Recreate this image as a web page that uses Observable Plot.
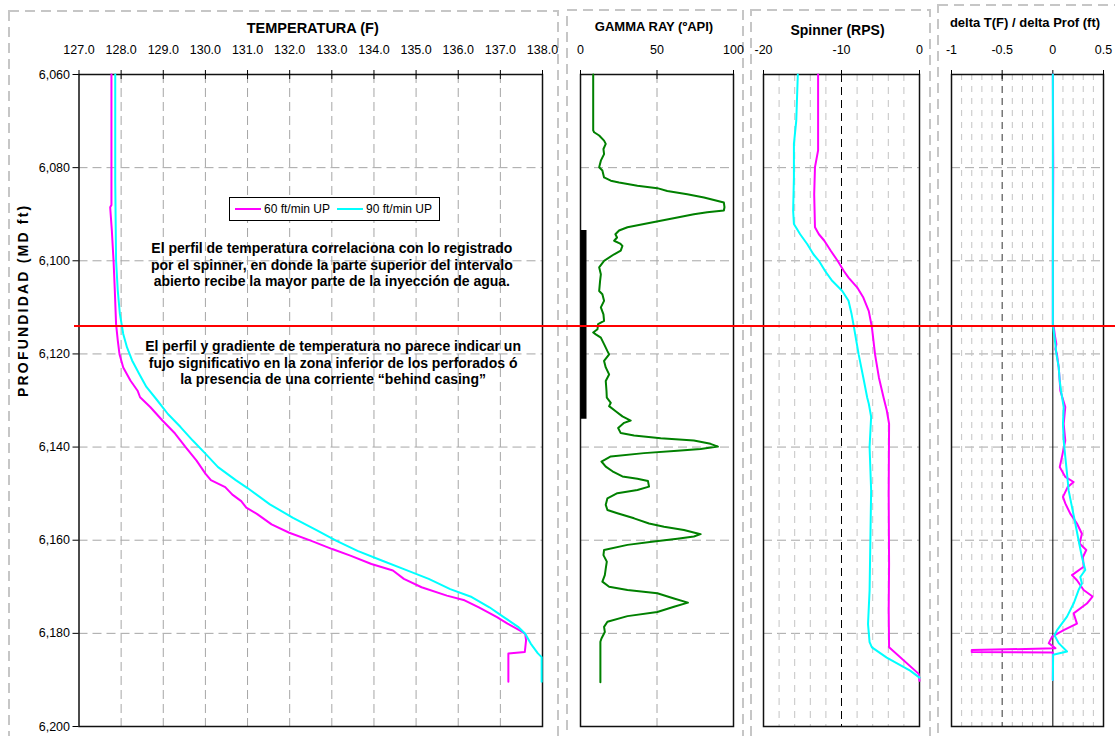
<!DOCTYPE html>
<html>
<head>
<meta charset="utf-8">
<script src="https://cdn.jsdelivr.net/npm/d3@7"></script>
<script src="https://cdn.jsdelivr.net/npm/@observablehq/plot@0.6"></script>
<style>
  body { margin: 0; background: #fff; font-family: "Liberation Sans", Arial, sans-serif; }
  #chart { position: relative; width: 1115px; height: 736px; overflow: hidden; background: #fff; }
  #chart svg { position: absolute; top: 0; }
  .legend { position: absolute; left: 229px; top: 197px; width: 204px; height: 22px;
            border: 1px solid #000; background: #fff; display: flex; align-items: center;
            font-size: 12px; color: #000; padding-left: 5px; box-sizing: content-box; }
  .legend .sw { display: inline-block; width: 28px; height: 2.5px; margin-right: 3px; }
  .legend .lb { margin-right: 7px; white-space: nowrap; }
</style>
</head>
<body>
<div id="chart"></div>
<script>
// ---- depth axis (shared by every track) ----
const depthDomain = [6060, 6200];
const depthTicks = [6060, 6080, 6100, 6120, 6140, 6160, 6180, 6200];
const depthGrid = [6080, 6100, 6120, 6140, 6160, 6180];
const markerDepth = 6114;          // boundary between upper and lower zone
const perfTop = 6093.5, perfBase = 6134;   // open (perforated) interval

// ---- track scales ----
const tempTicks = [127, 128, 129, 130, 131, 132, 133, 134, 135, 136, 137, 138];
const gammaTicks = [0, 50, 100];
const spinTicks = [-20, -10, 0];
const spinMinor = [-18, -16, -14, -12, -8, -6, -4, -2];
const deltaTicks = [-1, -0.5, 0, 0.5];
const deltaMinor = [-0.9, -0.8, -0.7, -0.6, -0.4, -0.3, -0.2, -0.1, 0.1, 0.2, 0.3, 0.4];

// ---- passes ----
const series = ["60 ft/min UP", "90 ft/min UP"];
const seriesColors = ["#ff00ff", "#00ffff"];

// ---- temperature (F) ----
const tempDepth60 = [6060, 6088, 6088.5, 6093.6, 6100, 6106.4, 6113.6, 6117.1, 6120, 6122.9, 6125.7, 6127.9, 6129.3, 6131.4, 6134.3, 6137.1, 6140, 6142.9, 6145.7, 6147.1, 6148.6, 6150.2, 6151.6, 6153.0, 6154.4, 6156.6, 6158.4, 6160.1, 6161.9, 6163.3, 6165.1, 6166.5, 6168.3, 6170.1, 6171.9, 6172.9, 6174.4, 6176.5, 6177.9, 6179.4, 6180.1, 6181.5, 6184.0, 6184.3, 6190.4];
const temp60 = [127.77, 127.77, 127.74, 127.78, 127.82, 127.85, 127.88, 127.92, 127.96, 128.05, 128.22, 128.39, 128.45, 128.69, 128.98, 129.28, 129.53, 129.79, 130.0, 130.13, 130.47, 130.64, 130.85, 130.97, 131.23, 131.57, 131.99, 132.50, 133.01, 133.44, 133.94, 134.45, 134.71, 135.13, 135.73, 136.15, 136.49, 136.92, 137.17, 137.47, 137.59, 137.61, 137.58, 137.19, 137.19];
const tempDepth90 = [6060, 6083, 6100, 6106.4, 6111.4, 6115.7, 6118.6, 6121.4, 6124.3, 6127.1, 6130, 6132.9, 6135.7, 6138.6, 6141.4, 6144.3, 6147.1, 6148.8, 6152.3, 6155.2, 6158.0, 6160.1, 6162.3, 6164.4, 6166.2, 6168.3, 6170.5, 6172.2, 6174.4, 6176.5, 6178.6, 6180.1, 6182.2, 6184.3, 6185.1, 6190.4];
const temp90 = [127.86, 127.86, 127.88, 127.92, 127.97, 128.05, 128.14, 128.26, 128.43, 128.60, 128.86, 129.11, 129.41, 129.70, 130.0, 130.30, 130.72, 131.0, 131.53, 132.08, 132.67, 133.10, 133.61, 134.20, 134.71, 135.30, 135.81, 136.32, 136.74, 137.08, 137.42, 137.59, 137.72, 137.89, 137.98, 137.98];

// ---- gamma ray (API) ----
const gammaDepth = [6060, 6072.0, 6072.4, 6073.1, 6074.2, 6074.9, 6076.0, 6077.1, 6078.5, 6079.9, 6080.6, 6082.1, 6082.8, 6083.2, 6083.9, 6084.4, 6085.0, 6085.7, 6086.4, 6087.5, 6088.5, 6089.2, 6089.6, 6090.0, 6090.7, 6091.4, 6092.1, 6092.8, 6093.5, 6094.3, 6095.0, 6095.7, 6096.3, 6096.8, 6097.8, 6098.6, 6100.0, 6101.4, 6102.9, 6104.3, 6106.5, 6107.2, 6108.6, 6110.0, 6111.5, 6112.9, 6113.6, 6114.7, 6115.4, 6115.8, 6116.5, 6117.9, 6119.4, 6120.1, 6121.5, 6122.9, 6124.4, 6125.8, 6128.0, 6129.4, 6130.5, 6131.2, 6132.3, 6133.4, 6134.3, 6134.8, 6135.9, 6137.0, 6137.5, 6138.1, 6138.6, 6139.3, 6139.9, 6140.4, 6140.8, 6141.3, 6142.0, 6143.1, 6144.2, 6145.2, 6146.3, 6146.8, 6147.3, 6148.5, 6149.2, 6149.9, 6151.0, 6152.4, 6153.5, 6154.2, 6155.3, 6156.4, 6157.1, 6157.8, 6158.7, 6159.2, 6159.7, 6160.3, 6161.0, 6162.1, 6163.2, 6164.6, 6166.1, 6167.5, 6168.9, 6170.0, 6170.7, 6171.4, 6172.5, 6173.4, 6174.3, 6175.4, 6176.3, 6177.5, 6178.6, 6179.7, 6181.1, 6181.8, 6190.5];
const gamma = [8.3, 8.3, 8.9, 12.2, 15.4, 16.5, 15.0, 15.4, 13.3, 12.2, 14.3, 15.4, 19.8, 25.2, 37.2, 50.2, 56.7, 69.8, 80.7, 93.7, 94.1, 93.7, 82.8, 74.1, 63.3, 52.4, 41.5, 30.7, 25.2, 22.8, 23.9, 22.0, 25.9, 27.4, 26.3, 22.0, 15.4, 12.2, 13.3, 12.8, 12.2, 14.3, 15.4, 13.3, 15.0, 15.4, 11.5, 11.1, 8.3, 10.0, 13.3, 15.4, 17.6, 18.7, 15.4, 16.5, 18.7, 16.5, 17.0, 17.2, 19.8, 18.7, 23.0, 27.4, 32.8, 28.5, 24.6, 26.3, 35.0, 52.4, 74.1, 85.0, 89.8, 78.5, 63.3, 41.5, 19.8, 13.7, 16.5, 20.9, 27.4, 37.2, 44.1, 44.8, 37.2, 24.1, 17.6, 16.5, 17.6, 24.1, 35.0, 44.8, 54.6, 67.6, 78.5, 74.1, 63.3, 48.0, 30.7, 15.4, 15.0, 17.2, 16.5, 15.9, 14.3, 18.7, 30.7, 50.2, 61.1, 70.2, 61.1, 50.2, 30.7, 17.6, 15.4, 15.9, 13.7, 13.0, 13.0];

// ---- spinner (RPS) ----
const spinDepth60 = [6060, 6076.3, 6079.9, 6085.7, 6092.8, 6094.3, 6095.7, 6097.8, 6100, 6102.2, 6103.6, 6105.7, 6107.9, 6110.8, 6114.3, 6120.1, 6125.1, 6129.4, 6132.1, 6135.0, 6150, 6165, 6175, 6183.0, 6188.7, 6190.2];
const spin60 = [-13.0, -13.0, -13.4, -13.5, -13.4, -12.9, -12.2, -11.4, -10.5, -9.7, -9.1, -8.0, -7.2, -6.5, -6.1, -5.7, -5.2, -4.6, -4.2, -3.9, -3.95, -3.9, -3.95, -3.9, -0.1, 0];
const spinDepth90 = [6060, 6069.9, 6074.9, 6082.1, 6089.2, 6092.1, 6094.3, 6096.4, 6098.6, 6100, 6102.2, 6104.3, 6106.5, 6108.6, 6111.5, 6114.3, 6120.1, 6125.1, 6129.4, 6130.7, 6133.5, 6140, 6149.3, 6160.1, 6170.8, 6178.0, 6181.9, 6183.0, 6185.2, 6188.0, 6189.5];
const spin90 = [-15.6, -15.8, -16.1, -16.1, -16.2, -16.1, -15.3, -14.4, -13.6, -12.9, -12.1, -11.2, -9.9, -9.1, -8.7, -8.4, -7.8, -7.2, -6.7, -6.5, -6.2, -6.4, -6.2, -6.3, -6.4, -6.6, -6.4, -6.1, -4.2, -1.2, 0];

// ---- temperature gradient (F/ft) ----
const dtDepth60 = [6060, 6080, 6100, 6113.6, 6114.3, 6116, 6117.9, 6119, 6120, 6122.9, 6125.8, 6127.9, 6131.4, 6135, 6138.6, 6142.1, 6144.3, 6146.4, 6147.5, 6148.6, 6150.7, 6152.1, 6154.3, 6156.4, 6158.6, 6160.7, 6162.1, 6163.6, 6165.7, 6167.5, 6168.6, 6170.7, 6172.1, 6173.6, 6175.7, 6177.9, 6179.3, 6180.7, 6182.1, 6183.2, 6183.6, 6184.0, 6184.1, 6190.0];
const dt60 = [0, 0.004, 0, 0, 0.01, 0.02, 0.035, 0.025, 0.04, 0.058, 0.068, 0.074, 0.123, 0.107, 0.123, 0.09, 0.068, 0.123, 0.205, 0.146, 0.1, 0.123, 0.172, 0.238, 0.287, 0.264, 0.33, 0.297, 0.304, 0.189, 0.238, 0.304, 0.392, 0.336, 0.205, 0.238, 0.107, -0.007, -0.04, 0.026, -0.8, -0.8, 0, 0];
const dtDepth90 = [6060, 6113.6, 6117.9, 6120, 6122.9, 6125.8, 6127.9, 6131.4, 6135, 6138.6, 6142.1, 6145.7, 6149.3, 6152.9, 6156.4, 6160, 6163.6, 6166.4, 6167.9, 6169.3, 6170.7, 6173.6, 6176.4, 6179.3, 6180.4, 6182.1, 6183.9, 6184.6, 6190];
const dt90 = [0, 0, 0.025, 0.035, 0.058, 0.068, 0.081, 0.107, 0.1, 0.107, 0.123, 0.14, 0.156, 0.189, 0.222, 0.254, 0.287, 0.32, 0.271, 0.287, 0.254, 0.205, 0.14, 0.042, 0.016, 0.058, 0.14, 0.003, 0];

// ---- notes ----
const noteUpper = "El perfil de temperatura correlaciona con lo registrado\npor el spinner, en donde la parte superior del intervalo\nabierto recibe la mayor parte de la inyección de agua.";
const noteLower = "El perfil y gradiente de temperatura no parece indicar un\nfujo significativo en la zona inferior de los perforados ó\nla presencia de una corriente “behind casing”";

// ------------------------------------------------------------------
const FONT = '"Liberation Sans", Arial, sans-serif';
const GRID = "#a6a6a6";
const MINOR = "#c4c4c4";
const rows = (ds, vs, name) => ds.map((d, i) => ({depth: d, value: vs[i], series: name}));

const chart = document.getElementById("chart");

// dashed panel outlines behind each track
const panels = [
  {left: 9, top: 11, width: 549},
  {left: 567, top: 10, width: 176},
  {left: 751, top: 10, width: 179},
  {left: 938, top: 5, width: 180}
];
const bg = d3.create("svg").attr("width", 1115).attr("height", 736).style("left", "0px");
bg.selectAll("rect").data(panels).join("rect")
  .attr("x", d => d.left).attr("y", d => d.top)
  .attr("width", d => d.width).attr("height", 760)
  .attr("fill", "none").attr("stroke", "#c6c6c6").attr("stroke-width", 2)
  .attr("stroke-dasharray", "10,6");
chart.append(bg.node());

function track({left, width, ml, mr, xDomain, ticks, tickFormat, title, titleDx, titleDy, titleSize, marks, yAxis}) {
  const frameH = 736 - 74 - 10;
  const svg = Plot.plot({
    width, height: 736,
    marginTop: 74, marginBottom: 10, marginLeft: ml, marginRight: mr,
    x: {domain: xDomain, axis: null},
    y: {domain: depthDomain, reverse: true, axis: null},
    style: {fontFamily: FONT, fontSize: "12.5px", background: "transparent", overflow: "visible", color: "#000"},
    marks: [
      Plot.ruleY(depthGrid, {stroke: GRID, strokeDasharray: "9,5"}),
      ...marks.under,
      Plot.frame({stroke: "#111", strokeWidth: 1.5}),
      Plot.ruleX(ticks.slice(1, -1), {stroke: "#111", insetBottom: frameH - 5}),
      Plot.axisX(ticks, {anchor: "top", tickSize: 5, tickPadding: 16, tickFormat, label: null}),
      ...(yAxis ? [
        Plot.axisY(depthTicks, {anchor: "left", tickSize: 6, tickPadding: 3, tickFormat: d3.format(","), label: null}),
        Plot.text(["PROFUNDIDAD (MD ft)"], {frameAnchor: "left", dx: -55.5, dy: -3.5, rotate: -90,
          fontWeight: "bold", fontSize: 14, lineAnchor: "middle"})
      ] : []),
      ...marks.over,
      Plot.text([title], {frameAnchor: "top", dx: titleDx, dy: titleDy, fontWeight: "bold",
        fontSize: titleSize, lineAnchor: "middle"})
    ]
  });
  svg.style.left = left + "px";
  chart.append(svg);
  return svg;
}

// Track 1: temperature
const t60 = rows(tempDepth60, temp60, series[0]);
const t90 = rows(tempDepth90, temp90, series[1]);
const tempSvg = track({
  left: 0, width: 558, ml: 78.5, mr: 16,
  xDomain: [127, 138], ticks: tempTicks, tickFormat: d3.format(".1f"),
  title: "TEMPERATURA (F)", titleDx: 2, titleDy: -46.5, titleSize: 14.5, yAxis: true,
  marks: {
    under: [Plot.ruleX(tempTicks.slice(1, -1), {stroke: GRID, strokeDasharray: "9,5"})],
    over: [
      Plot.line(t60, {x: "value", y: "depth", stroke: seriesColors[0], strokeWidth: 2}),
      Plot.line(t90, {x: "value", y: "depth", stroke: seriesColors[1], strokeWidth: 2}),
      Plot.text([noteUpper], {x: 133.0, y: 6100.8, fontWeight: "bold", fontSize: 14, lineHeight: 1.18, textAnchor: "middle"}),
      Plot.text([noteLower], {x: 133.03, y: 6121.8, fontWeight: "bold", fontSize: 14, lineHeight: 1.18, textAnchor: "middle"})
    ]
  }
});
d3.select(tempSvg).selectAll("text").filter(function () { return this.textContent.startsWith("PROFUNDIDAD"); })
  .attr("letter-spacing", "2.2px");

// Track 2: gamma ray
const gr = rows(gammaDepth, gamma, "GR");
track({
  left: 558, width: 185, ml: 22, mr: 10,
  xDomain: [0, 100], ticks: gammaTicks, tickFormat: d => String(d),
  title: "GAMMA RAY (ºAPI)", titleDx: -3, titleDy: -47.5, titleSize: 13,
  marks: {
    under: [Plot.ruleX([50], {stroke: GRID, strokeDasharray: "9,5"})],
    over: [
      Plot.ruleX([0], {y1: perfTop, y2: perfBase, stroke: "#000", strokeWidth: 6, dx: 3}),
      Plot.line(gr, {x: "value", y: "depth", stroke: "#008000", strokeWidth: 2})
    ]
  }
});

// Track 3: spinner
const s60 = rows(spinDepth60, spin60, series[0]);
const s90 = rows(spinDepth90, spin90, series[1]);
track({
  left: 743, width: 187, ml: 20, mr: 11,
  xDomain: [-20, 0], ticks: spinTicks, tickFormat: d => String(d),
  title: "Spinner (RPS)", titleDx: -4, titleDy: -44, titleSize: 14,
  marks: {
    under: [
      Plot.ruleX(spinMinor, {stroke: MINOR, strokeDasharray: "7,6"}),
      Plot.ruleX([-10], {stroke: "#000", strokeDasharray: "8,5"})
    ],
    over: [
      Plot.line(s60, {x: "value", y: "depth", stroke: seriesColors[0], strokeWidth: 2}),
      Plot.line(s90, {x: "value", y: "depth", stroke: seriesColors[1], strokeWidth: 2})
    ]
  }
});

// Track 4: temperature gradient
const d60 = rows(dtDepth60, dt60, series[0]);
const d90 = rows(dtDepth90, dt90, series[1]);
track({
  left: 930, width: 185, ml: 21, mr: 12,
  xDomain: [-1, 0.5], ticks: deltaTicks, tickFormat: d => String(d),
  title: "delta T(F) / delta Prof (ft)", titleDx: -2.5, titleDy: -51.5, titleSize: 13,
  marks: {
    under: [
      Plot.ruleX(deltaMinor, {stroke: MINOR, strokeDasharray: "6,6"}),
      Plot.ruleX([-0.5], {stroke: "#333", strokeDasharray: "7,5"}),
      Plot.ruleX([0], {stroke: "#000", strokeWidth: 1})
    ],
    over: [
      Plot.line(d60, {x: "value", y: "depth", stroke: seriesColors[0], strokeWidth: 2}),
      Plot.line(d90, {x: "value", y: "depth", stroke: seriesColors[1], strokeWidth: 2})
    ]
  }
});

// boundary marker running across all tracks
const marker = Plot.plot({
  width: 1115, height: 736,
  marginTop: 74, marginBottom: 10, marginLeft: 74, marginRight: 0,
  y: {domain: depthDomain, reverse: true, axis: null},
  style: {background: "transparent"},
  marks: [Plot.ruleY([markerDepth], {stroke: "#ff0000", strokeWidth: 2})]
});
marker.style.left = "0px";
marker.style.pointerEvents = "none";
chart.append(marker);

// legend for the two logging passes
const legend = d3.select(chart).append("div").attr("class", "legend");
series.forEach((s, i) => {
  legend.append("span").attr("class", "sw").style("background", seriesColors[i]);
  legend.append("span").attr("class", "lb").text(s);
});
</script>
</body>
</html>
